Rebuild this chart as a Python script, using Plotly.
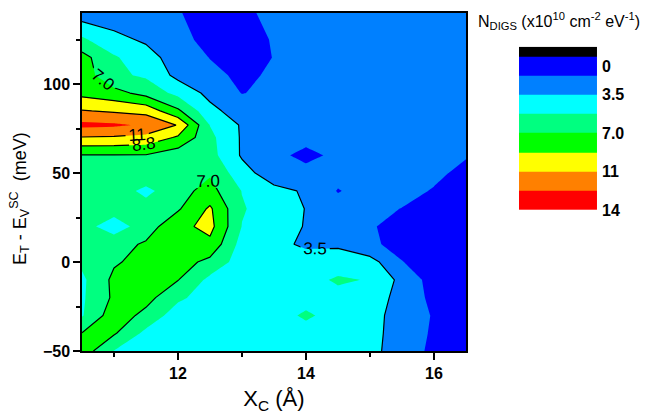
import plotly.graph_objects as go

# ---- data ----
x_vals = [10.5, 11.0, 11.5, 12.0, 12.5, 13.0, 13.5, 14.0, 14.5, 15.0, 15.5, 16.0, 16.5]
y_vals = [-50, -40, -30, -20, -10, 0, 10, 20, 30, 40, 50, 60, 70, 77, 85, 95, 105, 115, 125, 140]
z_m50 = [8.0, 5.2, 4.5, 4.4, 4.4, 4.5, 4.4, 4.4, 4.3, 3.9, 2.8, 1.3, 0.9]
z_m40 = [7.05, 7.2, 4.8, 4.5, 4.4, 4.4, 4.4, 4.4, 4.3, 4.0, 2.8, 1.5, 0.9]
z_m30 = [5.1, 8.0, 6.5, 4.3, 4.4, 4.4, 4.3, 5.6, 4.4, 4.0, 2.9, 1.6, 0.9]
z_m20 = [5.0, 7.3, 7.6, 5.6, 4.4, 4.4, 4.3, 4.4, 4.5, 4.4, 2.9, 1.3, 0.9]
z_m10 = [4.9, 7.4, 7.9, 7.05, 4.8, 4.5, 4.4, 4.4, 5.6, 5.1, 3.0, 1.0, 0.9]
z_0 = [5.6, 6.8, 7.6, 7.8, 6.5, 4.4, 4.3, 4.3, 4.0, 4.2, 1.8, 1.0, 1.0]
z_10 = [6.2, 6.4, 7.2, 7.9, 8.3, 4.6, 4.0, 3.2, 3.35, 2.0, 1.3, 0.9, 0.9]
z_20 = [6.0, 4.3, 6.2, 8.2, 9.3, 5.2, 4.3, 3.4, 2.5, 1.9, 1.2, 0.9, 0.9]
z_30 = [6.0, 6.1, 6.0, 6.8, 9.0, 5.4, 4.4, 3.45, 2.5, 2.3, 1.7, 1.0, 0.9]
z_40 = [6.3, 6.2, 4.8, 6.4, 7.6, 5.2, 4.0, 3.3, 1.65, 2.5, 2.4, 1.6, 1.0]
z_50 = [6.4, 6.4, 6.5, 6.6, 6.8, 4.2, 2.5, 2.4, 2.4, 2.5, 2.5, 2.2, 1.2]
z_60 = [6.9, 6.9, 6.9, 6.0, 5.9, 3.3, 2.3, 1.2, 2.2, 2.5, 2.5, 2.3, 1.9]
z_70 = [10.4, 10.3, 10.0, 8.5, 5.7, 3.3, 2.5, 2.4, 2.5, 2.6, 2.6, 2.6, 2.5]
z_77 = [12.7, 12.55, 12.0, 10.4, 5.2, 3.3, 2.6, 2.6, 2.6, 2.6, 2.6, 2.6, 2.6]
z_85 = [10.6, 10.27, 9.9, 7.3, 4.0, 2.6, 2.6, 2.6, 2.6, 2.6, 2.6, 2.6, 2.6]
z_95 = [8.23, 7.6, 6.4, 4.76, 3.0, 1.7, 2.1, 2.6, 2.6, 2.6, 2.6, 2.6, 2.6]
z_105 = [8.0, 5.6, 5.0, 3.0, 2.2, 1.4, 2.0, 2.6, 2.6, 2.6, 2.6, 2.6, 2.6]
z_115 = [7.6, 5.5, 4.0, 2.9, 1.7, 1.0, 1.8, 2.7, 2.6, 2.6, 2.6, 2.6, 2.6]
z_125 = [5.6, 3.85, 3.32, 2.3, 1.2, 1.2, 1.85, 2.6, 2.6, 2.6, 2.6, 2.6, 2.6]
z_140 = [2.5, 2.8, 2.5, 1.85, 1.1, 1.3, 2.3, 2.6, 2.6, 2.6, 2.6, 2.6, 2.6]
z_rows = [z_m50, z_m40, z_m30, z_m20, z_m10, z_0, z_10, z_20, z_30, z_40,
          z_50, z_60, z_70, z_77, z_85, z_95, z_105, z_115, z_125, z_140]

level_start = 0.0
level_end = 14.0
level_step = 1.75
line_levels = [3.5, 7.0, 8.75, 10.5]
line_formats = [".1f", ".1f", ".1f", ".0f"]

band_colors = ["#000000", "#0000FF", "#0080FF", "#00FFFF", "#00FF80",
               "#00FF00", "#FFFF00", "#FF8000", "#FF0000"]
cb_edges = [-0.875, 0, 1.75, 3.5, 5.25, 7.0, 8.75, 10.5, 12.25, 14.0]
cb_tickvals = [0.875, 3.5, 7.0, 10.5, 14.0]
cb_ticktext = ["0", "3.5", "7.0", "11", "14"]

x_ticks = [12, 14, 16]
y_ticks = [-50, 0, 50, 100]

FONT = "Arial, Liberation Sans, sans-serif"


def step_scale(colors):
    n = len(colors)
    sc = []
    for k, c in enumerate(colors):
        lo = max(0.0, (k - 0.5) / (n - 1))
        hi = min(1.0, (k + 0.5) / (n - 1))
        sc.append([lo, c])
        sc.append([hi, c])
    return sc


fill_colors = band_colors + [band_colors[-1]]

fig = go.Figure()
fig.add_trace(go.Contour(
    x=x_vals, y=y_vals, z=z_rows,
    autocontour=False,
    contours=dict(start=level_start, end=level_end, size=level_step, coloring="fill"),
    colorscale=step_scale(fill_colors),
    line=dict(width=0, smoothing=0),
    showscale=False, hoverinfo="skip",
    xaxis="x", yaxis="y",
))

for lv, fmt in zip(line_levels, line_formats):
    fig.add_trace(go.Contour(
        x=x_vals, y=y_vals, z=z_rows,
        autocontour=False,
        contours=dict(start=lv, end=lv, size=1, coloring="none",
                      showlabels=True, labelformat=fmt,
                      labelfont=dict(family=FONT, size=17, color="black")),
        line=dict(color="black", width=1.2, smoothing=0),
        showscale=False, hoverinfo="skip",
        xaxis="x", yaxis="y",
    ))

# custom colour bar
fig.add_trace(go.Heatmap(
    x=[0, 1], y=cb_edges, z=[[i] for i in range(len(band_colors))],
    colorscale=step_scale(band_colors), zmin=0, zmax=len(band_colors) - 1,
    showscale=False, hoverinfo="skip",
    xaxis="x2", yaxis="y2",
))

axis_common = dict(
    showline=True, linecolor="black", linewidth=1.5, mirror=True,
    ticks="outside", ticklen=7, tickwidth=1.5, tickcolor="black",
    showgrid=False, zeroline=False, automargin=False,
    tickfont=dict(family=FONT, size=16, color="black", weight="bold"),
)

fig.update_layout(
    width=649, height=414,
    margin=dict(l=82, r=52, t=13, b=63, autoexpand=False),
    paper_bgcolor="white", plot_bgcolor="white",
    showlegend=False,
    xaxis=dict(domain=[0, 0.7456], range=[10.5, 16.5], tickvals=x_ticks,
               minor=dict(dtick=1, tick0=0, ticklen=4, tickwidth=1.5, tickcolor="black", ticks="outside"),
               title=dict(text="X<sub>C</sub> (Å)", font=dict(family=FONT, size=22, color="black"), standoff=10),
               **axis_common),
    yaxis=dict(domain=[0, 1], range=[-50, 140], tickvals=y_ticks,
               minor=dict(dtick=25, tick0=0, ticklen=4, tickwidth=1.5, tickcolor="black", ticks="outside"),
               **axis_common),
    xaxis2=dict(domain=[0.8485, 1.0], range=[0, 1], visible=False, anchor="y2", fixedrange=True),
    yaxis2=dict(domain=[0.4172, 0.9003], range=[14.0, -0.875], anchor="x2", side="right",
                tickvals=cb_tickvals, ticktext=cb_ticktext, ticks="", showline=False,
                showgrid=False, zeroline=False, automargin=False, ticklabelstandoff=4,
                tickfont=dict(family=FONT, size=16, color="black", weight="bold")),
    annotations=[
        dict(text="N<sub>DIGS</sub> (x10<sup>10</sup> cm<sup>-2</sup> eV<sup>-1</sup>)",
             xref="paper", yref="paper", x=0.765, y=0.976, xanchor="left", yanchor="middle",
             showarrow=False, font=dict(family=FONT, size=16, color="black")),
        dict(text="E<sub>T</sub> - E<sub>V</sub><sup>SC</sup>  (meV)",
             xref="paper", yref="paper", x=-0.1204, y=0.4527, xanchor="center", yanchor="middle",
             textangle=-90, showarrow=False, font=dict(family=FONT, size=18, color="black")),
    ],
)

fig.write_html("out.html", config={"displayModeBar": False},
               post_script="document.body.style.margin='0px';document.body.style.overflow='hidden';")
